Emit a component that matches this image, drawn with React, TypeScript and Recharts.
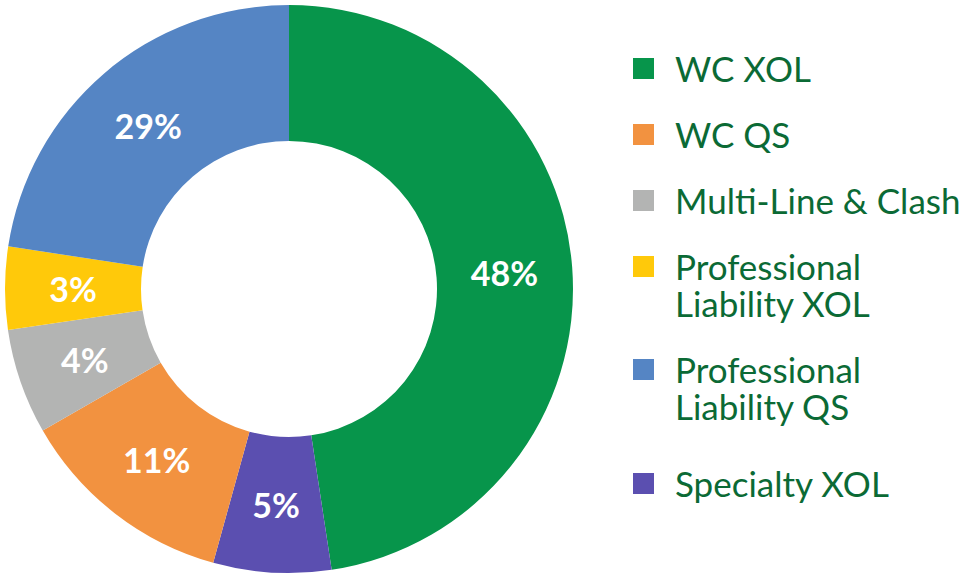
import React from 'react';
import { PieChart, Pie, Cell, Legend } from 'recharts';

const categories = [
  'WC XOL',
  'Specialty XOL',
  'WC QS',
  'Multi-Line & Clash',
  'Professional Liability XOL',
  'Professional Liability QS',
];
// slice sizes as drawn (measured from the arcs) and the printed labels
const sliceValues = [47.6, 6.7, 12.4, 6.0, 4.7, 22.6];
const labels = ['48%', '5%', '11%', '4%', '3%', '29%'];
const colors = ['#07954b', '#5b4fb0', '#f29240', '#b3b4b3', '#ffc90a', '#5585c4'];

// legend order differs from slice order
const legendOrder = [
  { name: 'WC XOL', lines: ['WC XOL'] },
  { name: 'WC QS', lines: ['WC QS'] },
  { name: 'Multi-Line & Clash', lines: ['Multi-Line & Clash'] },
  { name: 'Professional Liability XOL', lines: ['Professional', 'Liability XOL'] },
  { name: 'Professional Liability QS', lines: ['Professional', 'Liability QS'] },
  { name: 'Specialty XOL', lines: ['Specialty XOL'] },
];

const data = categories.map((name, i) => ({
  name,
  value: sliceValues[i],
  label: labels[i],
  color: colors[i],
}));

const FONT = 'Lato, "Noto Sans", sans-serif';
const RAD = Math.PI / 180;

const renderLabel = (props: any) => {
  const { cx, cy, midAngle, innerRadius, outerRadius, payload } = props;
  const r = (innerRadius + outerRadius) / 2;
  const x = cx + r * Math.cos(-midAngle * RAD);
  const y = cy + r * Math.sin(-midAngle * RAD);
  return (
    <text
      x={x}
      y={y}
      fill="#fff"
      textAnchor="middle"
      dominantBaseline="central"
      fontFamily={FONT}
      fontWeight={700}
      fontSize={34}
    >
      {payload.label}
    </text>
  );
};

const LegendBox = () => (
  <div style={{ fontFamily: FONT, color: '#0b6a35', fontSize: 35, lineHeight: '37px' }}>
    {legendOrder.map((item, i) => {
      const c = colors[categories.indexOf(item.name)];
      return (
        <div key={item.name} style={{ display: 'flex', alignItems: 'flex-start', marginBottom: i === 4 ? 40 : 29 }}>
          <div style={{ width: 21, height: 21, background: c, marginTop: 8, marginRight: 21, flexShrink: 0 }} />
          <div>
            {item.lines.map((l) => (
              <div key={l} style={{ whiteSpace: 'nowrap' }}>{l}</div>
            ))}
          </div>
        </div>
      );
    })}
  </div>
);

export default function App() {
  return (
    <div style={{ position: 'absolute', left: 0, top: 0, width: 963, height: 574, background: '#fff' }}>
      <PieChart width={963} height={574} margin={{ top: 0, right: 0, bottom: 0, left: 0 }}>
        <Pie
          data={data}
          dataKey="value"
          nameKey="name"
          cx={289}
          cy={289}
          innerRadius={148}
          outerRadius={284}
          startAngle={90}
          endAngle={-270}
          stroke="none"
          label={renderLabel}
          labelLine={false}
          isAnimationActive={false}
        >
          {data.map((d) => (
            <Cell key={d.name} fill={d.color} />
          ))}
        </Pie>
        <Legend
          layout="vertical"
          content={<LegendBox />}
          wrapperStyle={{ position: 'absolute', left: 633, top: 50, width: 330 }}
        />
      </PieChart>
    </div>
  );
}
